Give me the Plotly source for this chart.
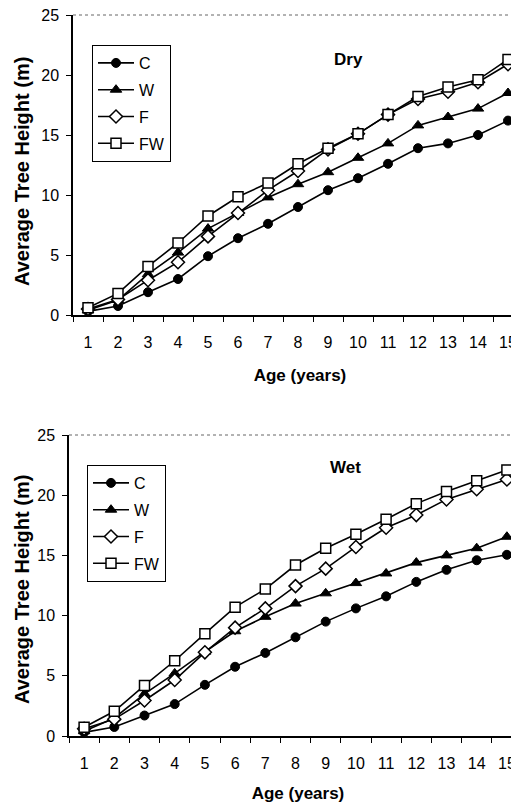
import plotly.graph_objects as go

ages = [str(i) for i in range(1, 16)]

dry_C = [0.3, 0.75, 1.9, 3.0, 4.9, 6.4, 7.6, 9.0, 10.4, 11.4, 12.6, 13.9, 14.3, 15.0, 16.2]
dry_W = [0.4, 1.25, 3.4, 5.2, 7.2, 8.5, 9.8, 10.9, 11.9, 13.1, 14.3, 15.8, 16.5, 17.2, 18.5]
dry_F = [0.5, 1.3, 2.9, 4.4, 6.55, 8.5, 10.4, 12.0, 13.8, 15.1, 16.7, 18.0, 18.6, 19.4, 20.9]
dry_FW = [0.6, 1.8, 4.05, 6.0, 8.25, 9.85, 11.0, 12.6, 13.9, 15.1, 16.7, 18.2, 19.0, 19.6, 21.3]

wet_C = [0.3, 0.75, 1.7, 2.65, 4.25, 5.75, 6.9, 8.2, 9.5, 10.6, 11.6, 12.8, 13.8, 14.6, 15.05]
wet_W = [0.4, 1.5, 3.5, 5.2, 7.0, 8.7, 9.9, 11.0, 11.85, 12.7, 13.5, 14.4, 15.0, 15.6, 16.55]
wet_F = [0.6, 1.4, 2.95, 4.65, 6.95, 9.0, 10.6, 12.45, 13.9, 15.7, 17.3, 18.35, 19.65, 20.5, 21.3]
wet_FW = [0.72, 2.05, 4.2, 6.25, 8.5, 10.7, 12.2, 14.2, 15.6, 16.75, 18.0, 19.3, 20.3, 21.2, 22.1]

series_names = ["C", "W", "F", "FW"]
FONT = "Liberation Sans, Arial, Helvetica, sans-serif"

styles = {
    "C": dict(symbol="circle", size=9, color="black", line=dict(color="black", width=1)),
    "W": dict(symbol="triangle-up", size=10, color="black", line=dict(color="black", width=1)),
    "F": dict(symbol="diamond", size=10, color="white", line=dict(color="black", width=1.5)),
    "FW": dict(symbol="square", size=10, color="white", line=dict(color="black", width=1.5)),
}

fig = go.Figure()

for panel, data, xa, ya, leg in [
    ("dry", [dry_C, dry_W, dry_F, dry_FW], "x", "y", "legend"),
    ("wet", [wet_C, wet_W, wet_F, wet_FW], "x2", "y2", "legend2"),
]:
    for name, vals in zip(series_names, data):
        fig.add_trace(go.Scatter(
            x=ages, y=vals, name=name, mode="lines+markers",
            line=dict(color="black", width=1.6),
            marker=styles[name],
            xaxis=xa, yaxis=ya, legend=leg,
            legendgroup=panel + name,
        ))

axis_common = dict(
    showline=True, linecolor="black", linewidth=1.5,
    ticks="outside", ticklen=5, tickcolor="black", tickwidth=1,
    showgrid=False, zeroline=False, automargin=False, ticklabeloverflow="allow",
    tickfont=dict(family=FONT, size=16, color="black"),
)
xtitle_top = dict(text="<b>Age (years)</b>", font=dict(family=FONT, size=17, color="black"), standoff=19)
xtitle_bot = dict(text="<b>Age (years)</b>", font=dict(family=FONT, size=17, color="black"), standoff=16)
YTITLE = "<b>Average Tree Height (m)</b>"

W, H = 519, 804
OFF = 8  # page body margin offset

def px(x):
    return (x - OFF) / W

def py(y):
    return 1 - (y - OFF) / H

ann_common = dict(xref="paper", yref="paper", showarrow=False,
                  xanchor="center", yanchor="middle")

fig.update_layout(
    width=W, height=H,
    margin=dict(l=0, r=0, t=0, b=0, autoexpand=False),
    paper_bgcolor="white", plot_bgcolor="white",
    font=dict(family=FONT, color="black"),
    xaxis=dict(axis_common, type="category", categoryorder="array", categoryarray=ages,
               tickson="boundaries", range=[-0.5, (W + OFF - 73) / 30.0 - 0.5],
               domain=[px(73), 1], anchor="y", title=xtitle_top, ticklabelstandoff=12),
    yaxis=dict(axis_common, range=[0, 25], dtick=5, domain=[py(315), py(15)],
               anchor="x", ticklabelstandoff=4),
    xaxis2=dict(axis_common, type="category", categoryorder="array", categoryarray=ages,
                tickson="boundaries", range=[-0.5, (W + OFF - 69) / 30.2 - 0.5],
                domain=[px(69), 1], anchor="y2", title=xtitle_bot, ticklabelstandoff=12),
    yaxis2=dict(axis_common, range=[0, 25], dtick=5, domain=[py(736), py(435)],
                anchor="x2", ticklabelstandoff=4),
    legend=dict(x=px(92), y=py(45), xanchor="left", yanchor="top",
                bordercolor="black", borderwidth=1, bgcolor="white",
                font=dict(family=FONT, size=16, color="black"),
                traceorder="grouped", tracegroupgap=3, itemwidth=36),
    legend2=dict(x=px(87), y=py(465), xanchor="left", yanchor="top",
                 bordercolor="black", borderwidth=1, bgcolor="white",
                 font=dict(family=FONT, size=16, color="black"),
                 traceorder="grouped", tracegroupgap=3, itemwidth=36),
    annotations=[
        dict(ann_common, text=YTITLE, x=px(22), y=py(172), textangle=-90,
             font=dict(family=FONT, size=20, color="black")),
        dict(ann_common, text=YTITLE, x=px(22), y=py(590), textangle=-90,
             font=dict(family=FONT, size=20, color="black")),
        dict(ann_common, text="<b>Dry</b>", x=px(348), y=py(59),
             font=dict(family=FONT, size=17, color="black")),
        dict(ann_common, text="<b>Wet</b>", x=px(345.5), y=py(468),
             font=dict(family=FONT, size=17, color="black")),
    ],
    shapes=[
        dict(type="line", xref="x domain", yref="y domain", x0=0, x1=1, y0=1, y1=1,
             line=dict(color="#666666", width=1, dash="dot")),
        dict(type="line", xref="x2 domain", yref="y2 domain", x0=0, x1=1, y0=1, y1=1,
             line=dict(color="#666666", width=1, dash="dot")),
    ],
)

fig.write_html("out.html")
